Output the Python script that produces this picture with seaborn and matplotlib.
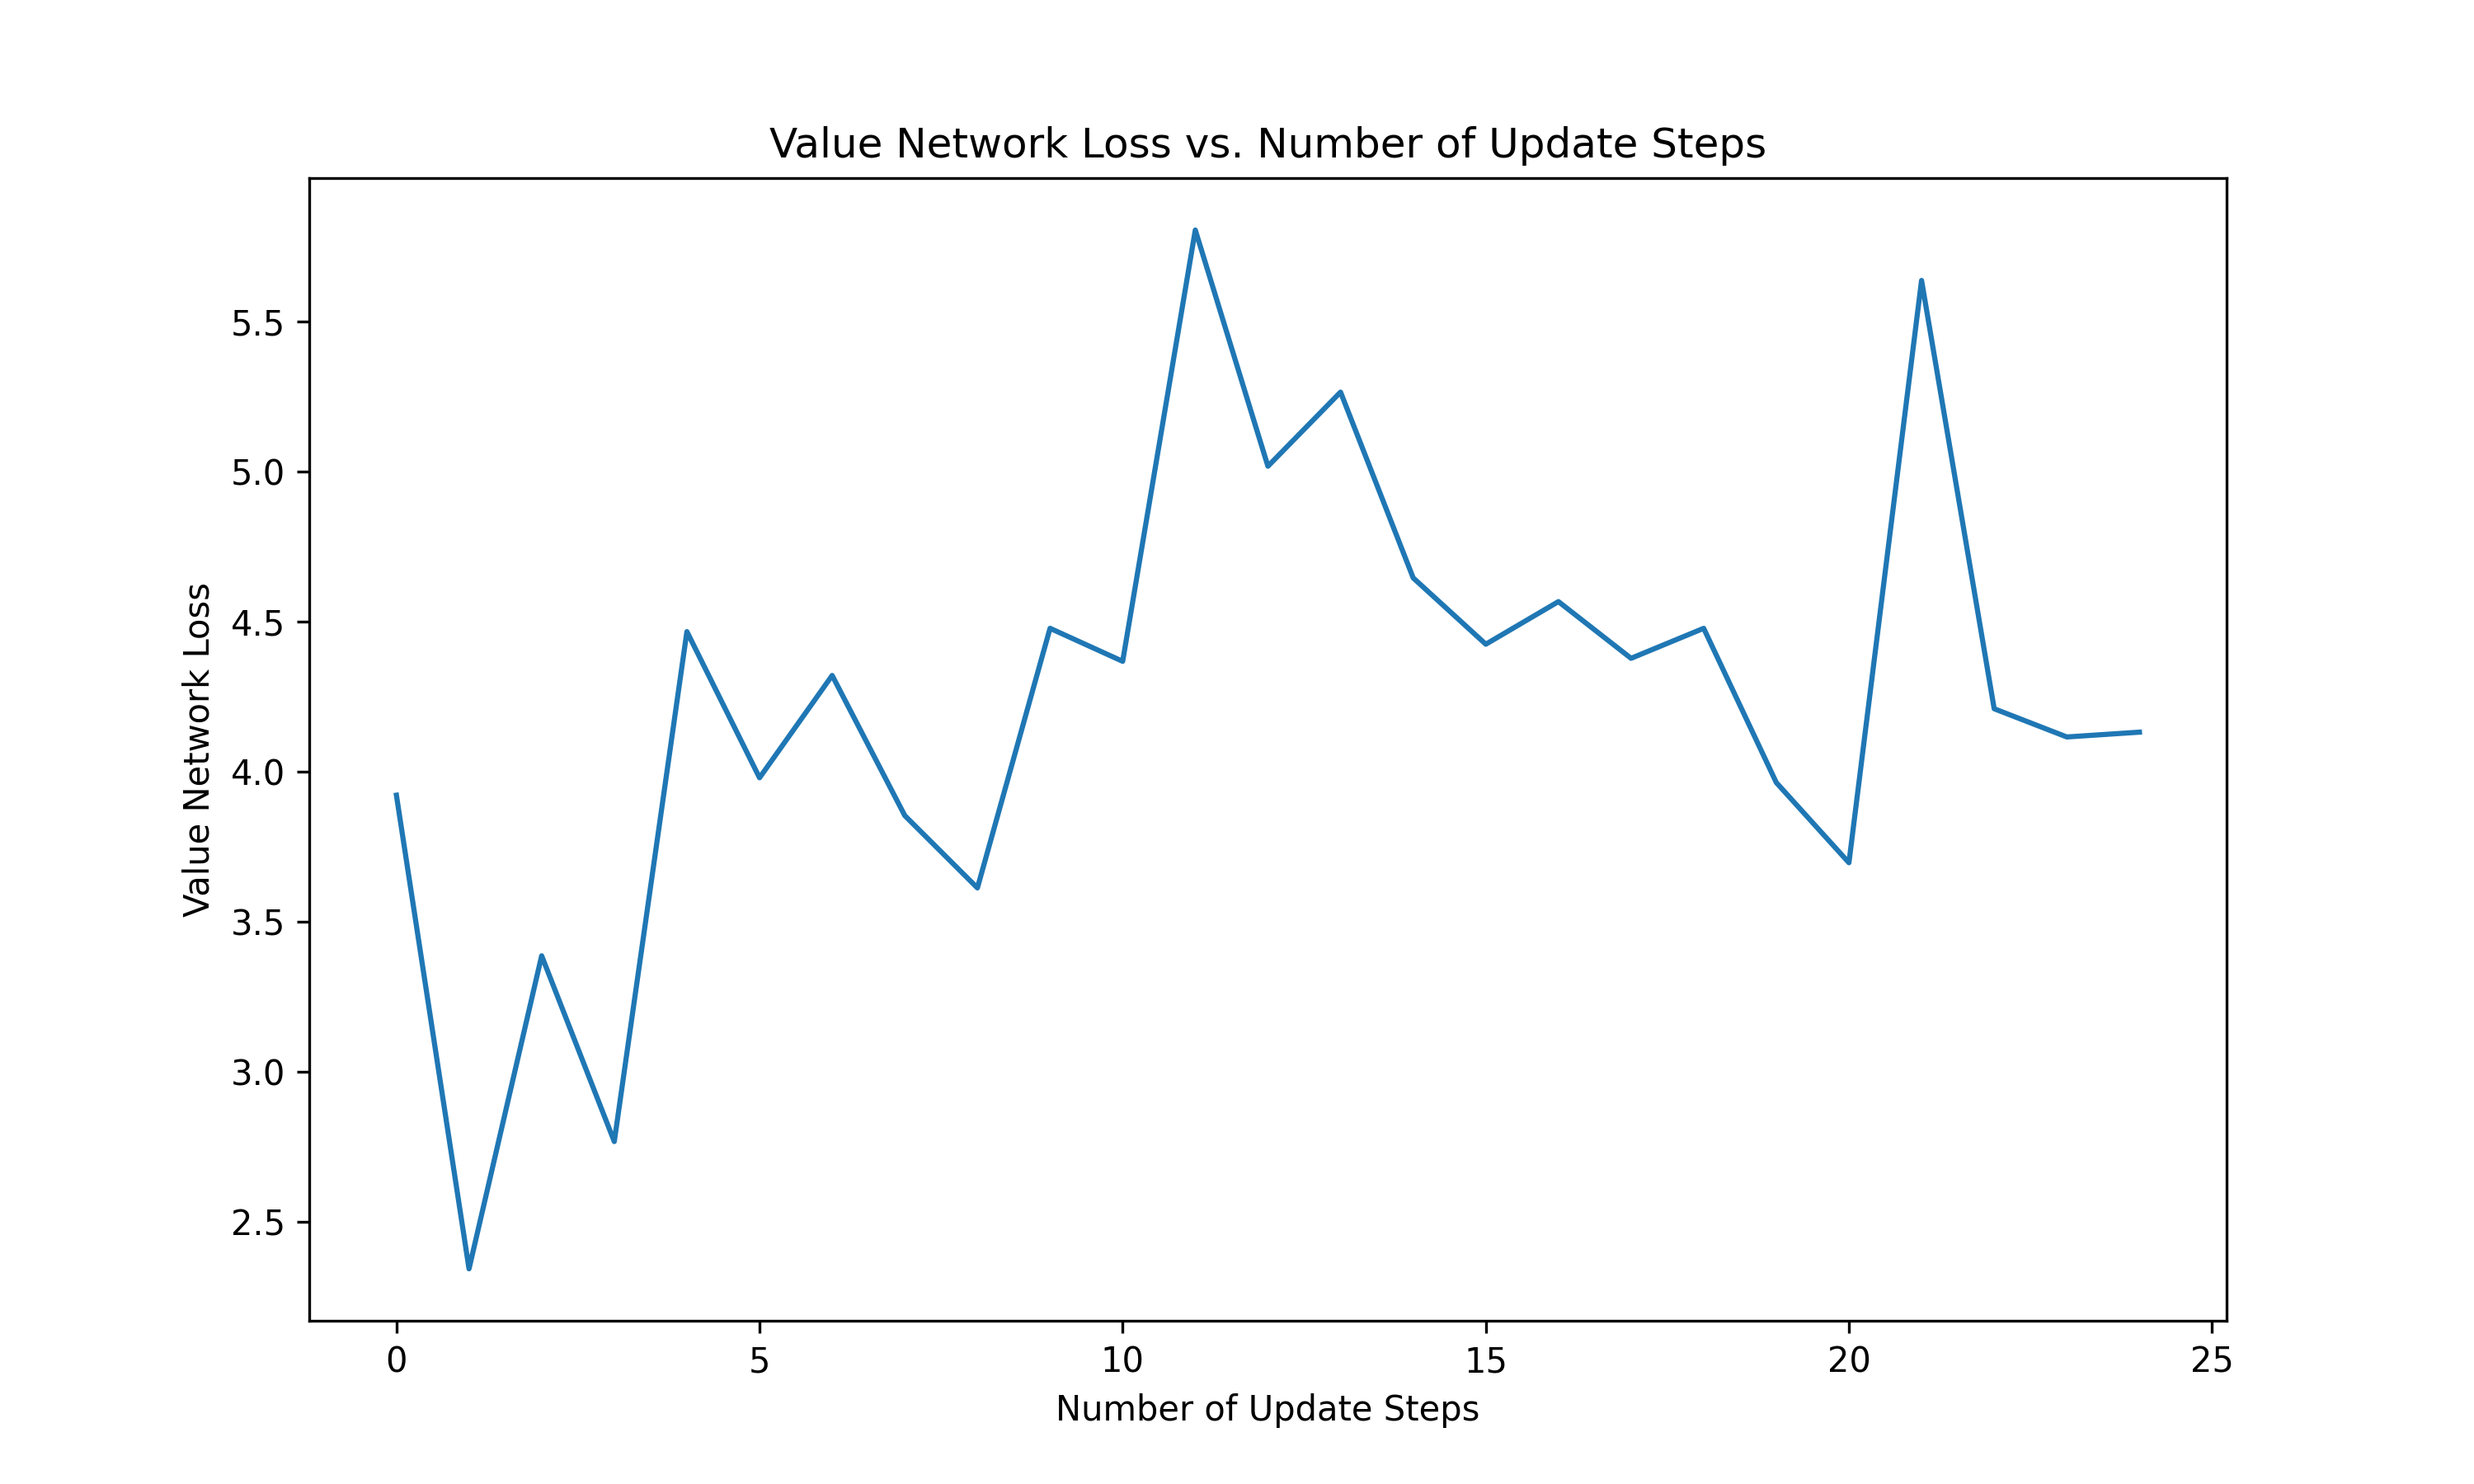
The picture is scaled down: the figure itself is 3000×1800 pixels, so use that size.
import numpy as np
import pandas as pd
import seaborn as sns
import matplotlib.pyplot as plt

steps = list(range(25))
loss = [3.921, 2.343, 3.386, 2.767, 4.466, 3.979, 4.320, 3.853, 3.612, 4.477,
        4.367, 5.804, 5.017, 5.264, 4.645, 4.424, 4.566, 4.377, 4.477, 3.963,
        3.696, 5.636, 4.209, 4.115, 4.131]

frame = pd.DataFrame({'step': steps, 'loss': loss})

fig, ax = plt.subplots(figsize=(10, 6))
sns.lineplot(data=frame, x='step', y='loss', ax=ax, color='tab:blue')
ax.set_title('Value Network Loss vs. Number of Update Steps')
ax.set_xlabel('Number of Update Steps')
ax.set_ylabel('Value Network Loss')

plt.savefig('out.png', dpi=300)
